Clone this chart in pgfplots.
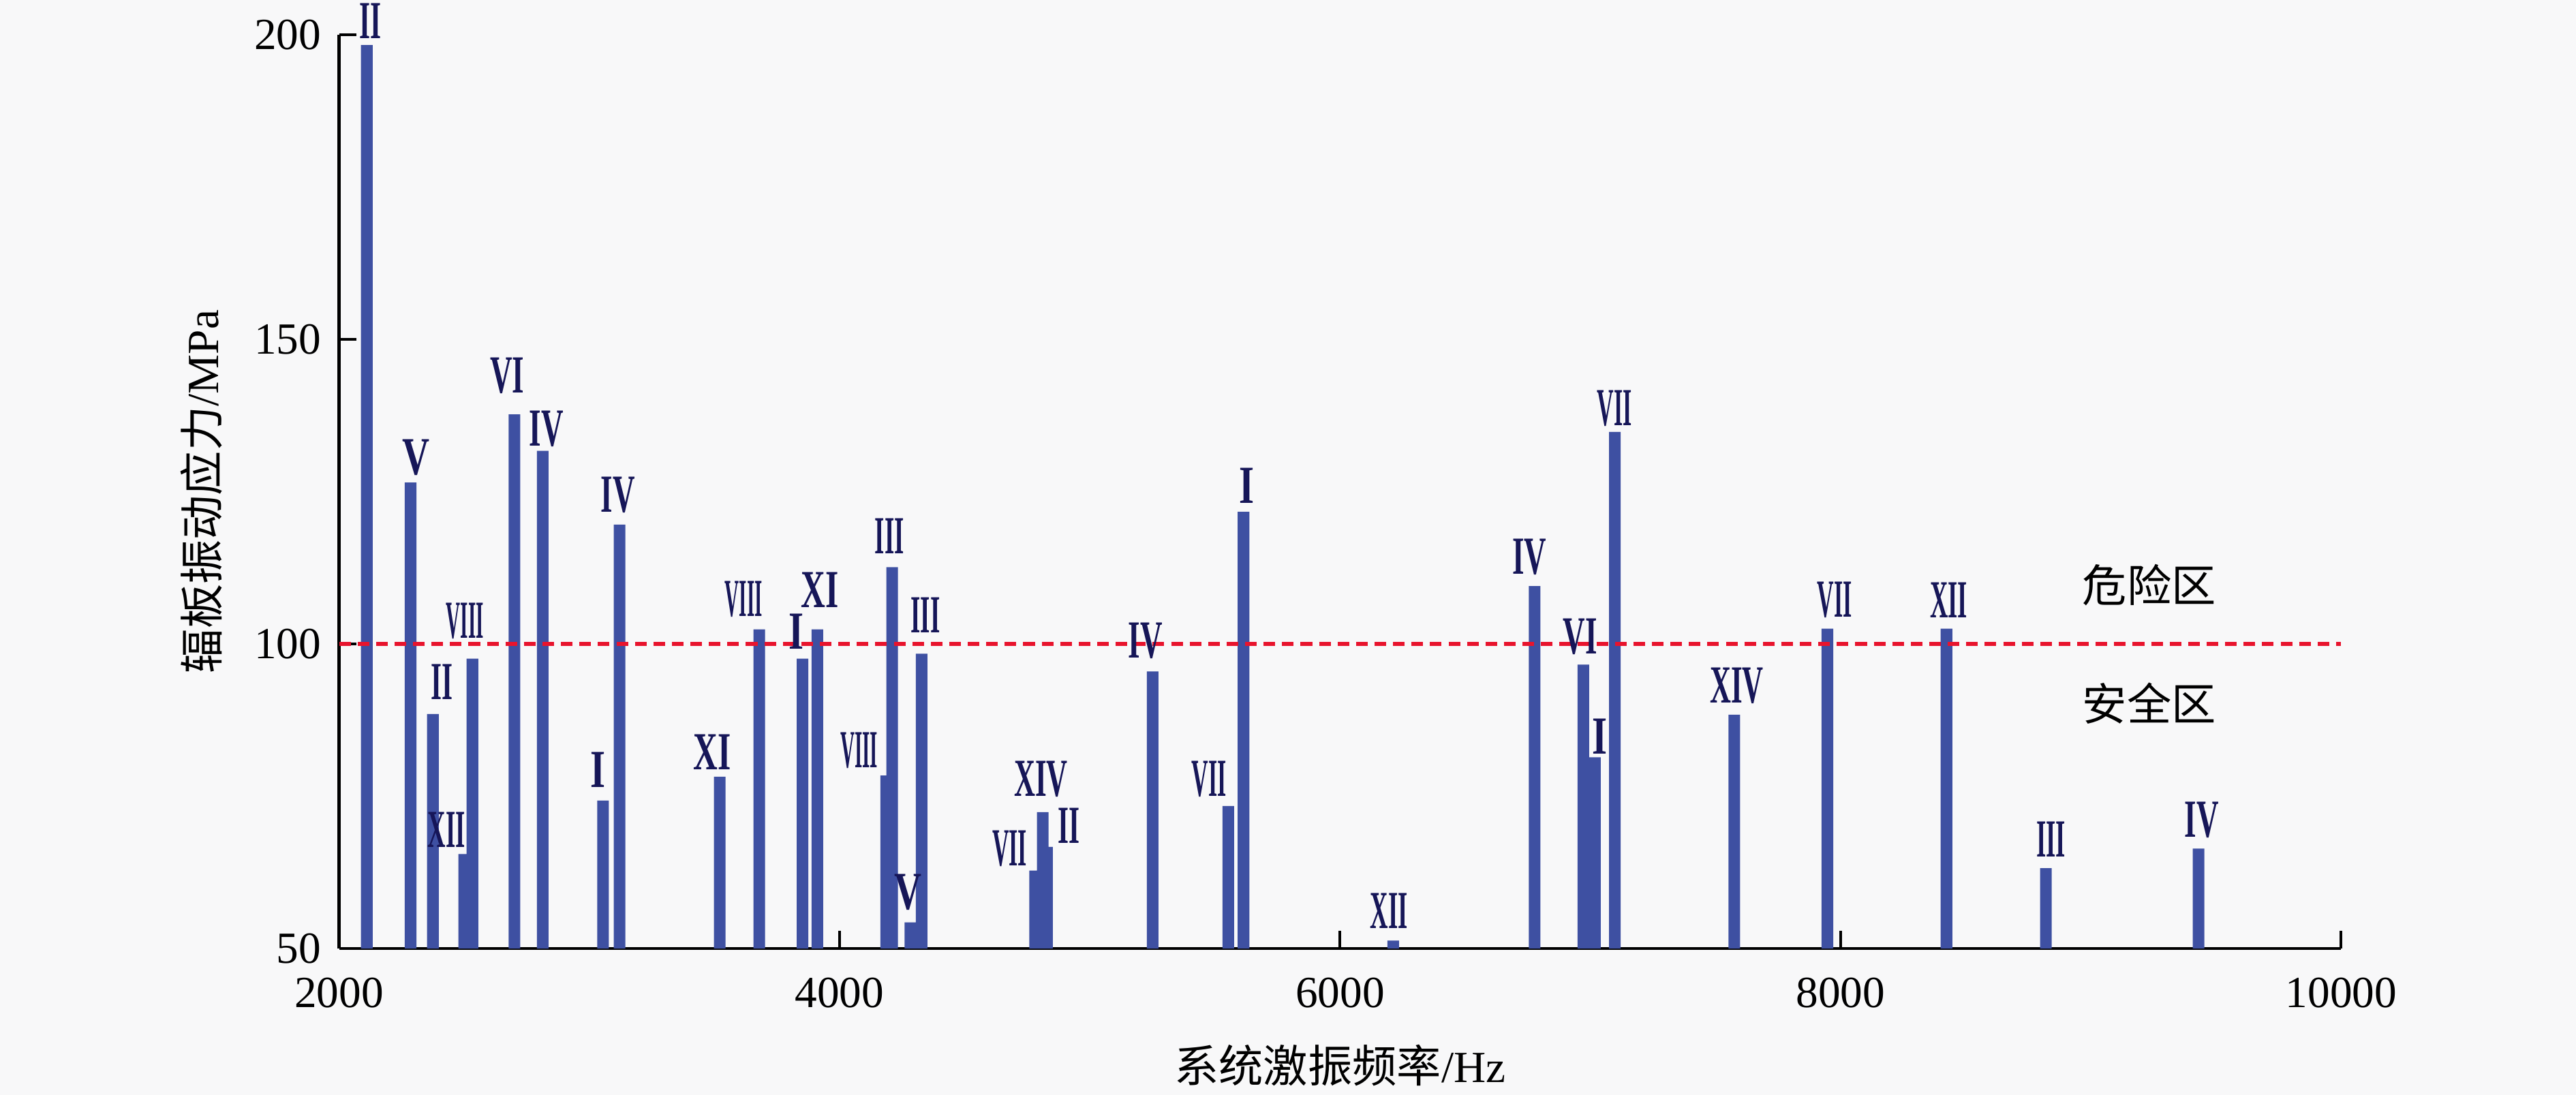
\documentclass[border=0pt]{standalone}
\usepackage{pgfplots}
\pgfplotsset{compat=1.18}
\usepackage{graphicx}
\usepackage{fontspec}
\setmainfont{Liberation Serif}
\newfontfamily\cjk{Noto Sans CJK SC}
\definecolor{bgc}{RGB}{248,248,249}
\definecolor{barc}{RGB}{62,80,162}
\definecolor{navy}{RGB}{22,22,88}
\definecolor{dred}{RGB}{232,20,45}
\newcommand{\rn}[2]{\resizebox{#1}{0.36cm}{\bfseries #2}}
\pgfplotstableread{
hz val
2111 198.3
2286 126.5
2375 88.5
2500 65.5
2533 97.6
2701 137.7
2814 131.7
3055 74.3
3121 119.6
3521 78.2
3679 102.4
3852 97.6
3911 102.4
4186 78.4
4210 112.6
4283 54.3
4328 98.4
4781 62.8
4812 72.4
4829 66.7
5251 95.5
5553 73.4
5614 121.7
6212 51.3
6777 109.5
6972 96.6
7018 81.4
7098 134.8
7575 88.4
7947 102.5
8423 102.5
8820 63.2
9430 66.4
}\bars
\begin{document}
\begin{tikzpicture}
\useasboundingbox (-3.48,-1.50) rectangle (22.96,9.737);
\fill[bgc] (-3.48,-1.50) rectangle (22.96,9.737);
\begin{axis}[
  at={(0,0)}, anchor=south west, scale only axis,
  width=20.55cm, height=9.38cm,
  xmin=2000, xmax=10000, ymin=50, ymax=200,
  axis x line*=bottom, axis y line*=left,
  axis line style={line width=0.9pt,-},
  xtick={2000,4000,6000,8000,10000},
  ytick={50,100,150,200},
  tick align=inside, major tick length=0.18cm,
  tick style={black,line width=0.8pt},
  scaled x ticks=false,
  /pgf/number format/1000 sep={},
  /pgf/number format/assume math mode=true,
  tick label style={font=\fontsize{13}{13}\selectfont},
  x tick label style={yshift=-0.18cm},
  y tick label style={xshift=-0.06cm},
  xlabel={\cjk 系统激振频率\rmfamily/Hz},
  label style={font=\fontsize{13}{13}\selectfont},
  xlabel style={at={(axis description cs:0.5,0)},anchor=center,yshift=-1.20cm},
  clip mode=individual,
]
\addplot[ybar, bar width=3.4pt, fill=barc, draw=none] table[x=hz,y=val] {\bars};
\addplot[dred, line width=1.3pt, dash pattern=on 3.4pt off 2pt] coordinates {(2000,100) (10000,100)};
\begin{scope}[every node/.style={anchor=south, inner sep=0pt, text=navy}]
\node at (axis cs:2125,199.3) {\rn{0.224cm}{II}};
\node at (axis cs:2307,127.6) {\rn{0.28cm}{V}};
\node at (axis cs:2411,90.8) {\rn{0.224cm}{II}};
\node at (axis cs:2429,66.5) {\rn{0.385cm}{XII}};
\node at (axis cs:2503,100.7) {\rn{0.385cm}{VIII}};
\node at (axis cs:2672,141) {\rn{0.35cm}{VI}};
\node at (axis cs:2828,132.2) {\rn{0.35cm}{IV}};
\node at (axis cs:3036,76.4) {\rn{0.154cm}{I}};
\node at (axis cs:3114,121.4) {\rn{0.35cm}{IV}};
\node at (axis cs:3491,79.3) {\rn{0.385cm}{XI}};
\node at (axis cs:3617,104.3) {\rn{0.385cm}{VIII}};
\node at (axis cs:3826,99.1) {\rn{0.154cm}{I}};
\node at (axis cs:3922,105.9) {\rn{0.385cm}{XI}};
\node at (axis cs:4078,79.5) {\rn{0.385cm}{VIII}};
\node at (axis cs:4200,114.7) {\rn{0.30cm}{III}};
\node at (axis cs:4273,56.2) {\rn{0.28cm}{V}};
\node at (axis cs:4343,101.7) {\rn{0.30cm}{III}};
\node at (axis cs:4680,63.4) {\rn{0.357cm}{VII}};
\node at (axis cs:4805,74.8) {\rn{0.55cm}{XIV}};
\node at (axis cs:4916,67.2) {\rn{0.224cm}{II}};
\node at (axis cs:5222,97.5) {\rn{0.35cm}{IV}};
\node at (axis cs:5476,74.8) {\rn{0.357cm}{VII}};
\node at (axis cs:5627,123) {\rn{0.154cm}{I}};
\node at (axis cs:6196,53.2) {\rn{0.385cm}{XII}};
\node at (axis cs:6756,111.2) {\rn{0.35cm}{IV}};
\node at (axis cs:6960,98.1) {\rn{0.35cm}{VI}};
\node at (axis cs:7038,81.8) {\rn{0.154cm}{I}};
\node at (axis cs:7097,135.6) {\rn{0.357cm}{VII}};
\node at (axis cs:7585,90.1) {\rn{0.55cm}{XIV}};
\node at (axis cs:7976,104.2) {\rn{0.357cm}{VII}};
\node at (axis cs:8432,104.2) {\rn{0.385cm}{XII}};
\node at (axis cs:8841,64.9) {\rn{0.30cm}{III}};
\node at (axis cs:9443,68.1) {\rn{0.35cm}{IV}};
\end{scope}
\node[anchor=center, font=\fontsize{13}{13}\selectfont\cjk] at (axis cs:9233,109.7) {危险区};
\node[anchor=center, font=\fontsize{13}{13}\selectfont\cjk] at (axis cs:9233,90.3) {安全区};
\node[rotate=90, anchor=center, font=\fontsize{13}{13}\selectfont] at ([xshift=-1.41cm]rel axis cs:0,0.5) {{\cjk 辐板振动应力}/MPa};
\end{axis}
\end{tikzpicture}
\end{document}
